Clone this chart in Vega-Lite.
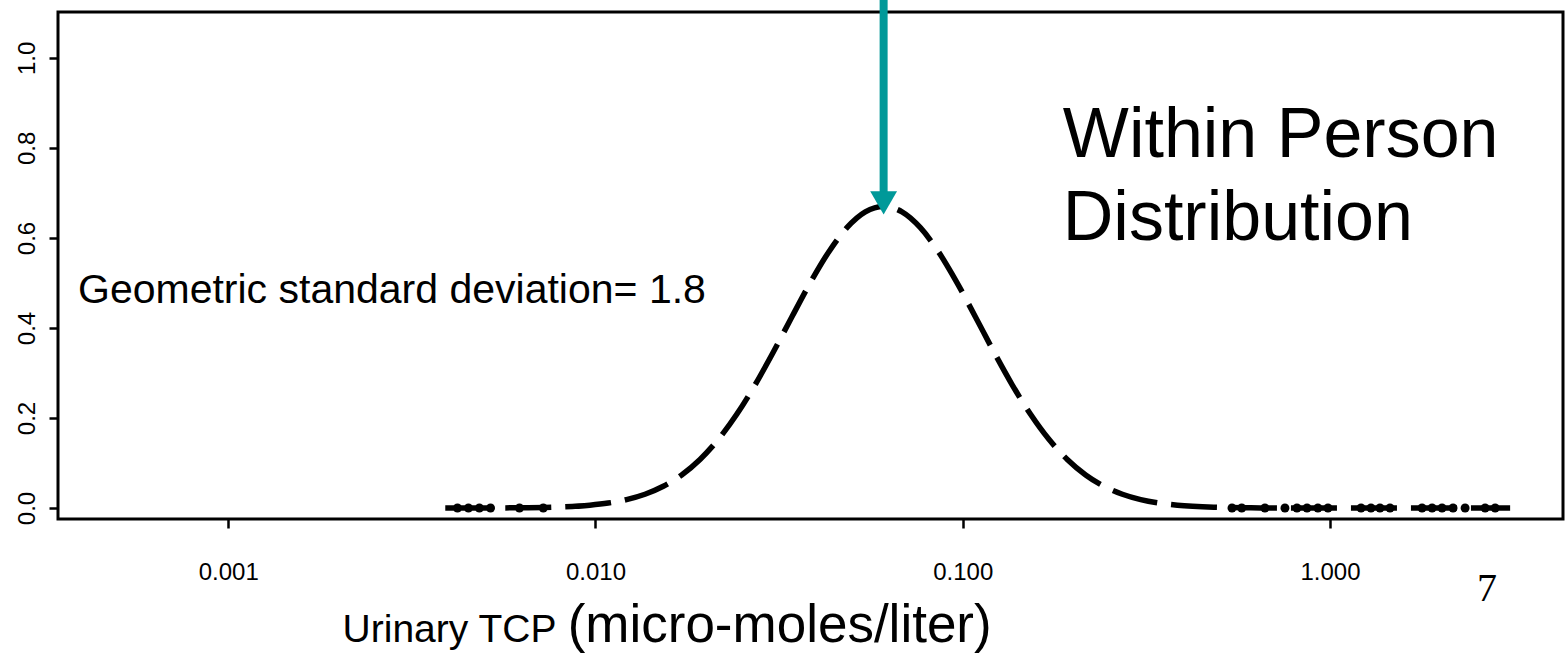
{
  "$schema": "https://vega.github.io/schema/vega-lite/v6.json",
  "width": 1505,
  "height": 507,
  "autosize": "none",
  "padding": {"left": 58, "top": 12, "right": 5, "bottom": 137},
  "background": "white",
  "config": {
    "view": {"stroke": "#000", "strokeWidth": 3},
    "axis": {"domain": false, "grid": false, "tickColor": "#000", "tickWidth": 2.5, "tickSize": 9, "labelColor": "#000", "labelFont": "Liberation Sans", "labelFontSize": 24},
    "text": {"font": "Liberation Sans", "color": "#000"}
  },
  "datasets": {
    "curve": [
      {"x": 0.0039, "y": 0.0},
      {"x": 0.00484, "y": 0.0001},
      {"x": 0.00609, "y": 0.00045},
      {"x": 0.00767, "y": 0.0018},
      {"x": 0.00965, "y": 0.0062},
      {"x": 0.01083, "y": 0.011},
      {"x": 0.01215, "y": 0.0187},
      {"x": 0.01364, "y": 0.0306},
      {"x": 0.0153, "y": 0.0483},
      {"x": 0.01717, "y": 0.0735},
      {"x": 0.01926, "y": 0.1079},
      {"x": 0.02161, "y": 0.1526},
      {"x": 0.02425, "y": 0.2082},
      {"x": 0.02721, "y": 0.2738},
      {"x": 0.03053, "y": 0.3471},
      {"x": 0.03425, "y": 0.4244},
      {"x": 0.03843, "y": 0.5002},
      {"x": 0.04312, "y": 0.5684},
      {"x": 0.04838, "y": 0.6228},
      {"x": 0.05429, "y": 0.6579},
      {"x": 0.06091, "y": 0.67},
      {"x": 0.06834, "y": 0.6579},
      {"x": 0.07668, "y": 0.6228},
      {"x": 0.08604, "y": 0.5684},
      {"x": 0.09654, "y": 0.5002},
      {"x": 0.10832, "y": 0.4244},
      {"x": 0.12153, "y": 0.3471},
      {"x": 0.13636, "y": 0.2738},
      {"x": 0.153, "y": 0.2082},
      {"x": 0.17167, "y": 0.1526},
      {"x": 0.19262, "y": 0.1079},
      {"x": 0.21612, "y": 0.0735},
      {"x": 0.24249, "y": 0.0483},
      {"x": 0.27207, "y": 0.0306},
      {"x": 0.30527, "y": 0.0187},
      {"x": 0.34252, "y": 0.011},
      {"x": 0.38432, "y": 0.0062},
      {"x": 0.48383, "y": 0.0018},
      {"x": 0.6091, "y": 0.00045},
      {"x": 0.7668, "y": 0.0001},
      {"x": 0.9654, "y": 0.0},
      {"x": 1.53, "y": 0.0},
      {"x": 3.094, "y": 0.0}
    ],
    "rug": [
      {"x": 0.00421, "y": 0}, {"x": 0.00451, "y": 0}, {"x": 0.00483, "y": 0}, {"x": 0.00518, "y": 0},
      {"x": 0.00621, "y": 0}, {"x": 0.00721, "y": 0},
      {"x": 0.541, "y": 0}, {"x": 0.575, "y": 0}, {"x": 0.665, "y": 0},
      {"x": 0.754, "y": 0}, {"x": 0.813, "y": 0}, {"x": 0.866, "y": 0}, {"x": 0.927, "y": 0}, {"x": 0.9875, "y": 0},
      {"x": 1.215, "y": 0}, {"x": 1.293, "y": 0}, {"x": 1.368, "y": 0}, {"x": 1.457, "y": 0},
      {"x": 1.781, "y": 0}, {"x": 1.897, "y": 0}, {"x": 2.019, "y": 0}, {"x": 2.163, "y": 0}, {"x": 2.333, "y": 0},
      {"x": 2.645, "y": 0}, {"x": 2.817, "y": 0}
    ]
  },
  "layer": [
    {
      "data": {"name": "curve"},
      "mark": {"type": "line", "color": "#000", "strokeWidth": 5.5, "strokeDash": [46, 14], "strokeCap": "butt", "interpolate": "monotone"},
      "encoding": {
        "x": {"field": "x", "type": "quantitative", "title": null,
              "scale": {"type": "log", "domain": [0.000344, 4.31], "nice": false, "zero": false},
              "axis": {"values": [0.001, 0.01, 0.1, 1], "format": ".3f", "labelPadding": 32}},
        "y": {"field": "y", "type": "quantitative", "title": null,
              "scale": {"domain": [-0.0244, 1.102], "nice": false, "zero": false},
              "axis": {"values": [0, 0.2, 0.4, 0.6, 0.8, 1.0], "format": ".1f", "labelAngle": 270, "labelAlign": "center", "labelBaseline": "bottom", "labelPadding": 10}}
      }
    },
    {
      "data": {"name": "rug"},
      "mark": {"type": "point", "shape": "circle", "filled": true, "color": "#000", "size": 80, "opacity": 1},
      "encoding": {
        "x": {"field": "x", "type": "quantitative", "title": null},
        "y": {"field": "y", "type": "quantitative", "title": null}
      }
    },
    {
      "data": {"values": [{"x": 0.0609, "y": 1.14, "y2": 0.7}]},
      "mark": {"type": "rule", "color": "#009999", "strokeWidth": 8, "clip": false},
      "encoding": {
        "x": {"field": "x", "type": "quantitative", "title": null},
        "y": {"field": "y", "type": "quantitative", "title": null},
        "y2": {"field": "y2"}
      }
    },
    {
      "data": {"values": [{"x": 0.0609, "y": 0.678}]},
      "mark": {"type": "point", "shape": "triangle-down", "filled": true, "color": "#009999", "size": 720, "opacity": 1},
      "encoding": {
        "x": {"field": "x", "type": "quantitative", "title": null},
        "y": {"field": "y", "type": "quantitative", "title": null}
      }
    },
    {
      "data": {"values": [{"x": 0.00039, "y": 0.4556, "text": "Geometric standard deviation= 1.8"}]},
      "mark": {"type": "text", "fontSize": 41, "align": "left", "baseline": "alphabetic"},
      "encoding": {
        "x": {"field": "x", "type": "quantitative", "title": null},
        "y": {"field": "y", "type": "quantitative", "title": null},
        "text": {"field": "text"}
      }
    },
    {
      "data": {"values": [{"x": 0.1873, "y": 0.78, "text": "Within Person"}, {"x": 0.1873, "y": 0.5956, "text": "Distribution"}]},
      "mark": {"type": "text", "fontSize": 70, "align": "left", "baseline": "alphabetic"},
      "encoding": {
        "x": {"field": "x", "type": "quantitative", "title": null},
        "y": {"field": "y", "type": "quantitative", "title": null},
        "text": {"field": "text"}
      }
    },
    {
      "data": {"values": [{"x": 0.007828, "y": -0.298, "text": "Urinary TCP"}]},
      "mark": {"type": "text", "fontSize": 39, "align": "right", "baseline": "alphabetic"},
      "encoding": {
        "x": {"field": "x", "type": "quantitative", "title": null},
        "y": {"field": "y", "type": "quantitative", "title": null},
        "text": {"field": "text"}
      }
    },
    {
      "data": {"values": [{"x": 0.0084, "y": -0.298, "text": "(micro-moles/liter)"}]},
      "mark": {"type": "text", "fontSize": 53, "align": "left", "baseline": "alphabetic"},
      "encoding": {
        "x": {"field": "x", "type": "quantitative", "title": null},
        "y": {"field": "y", "type": "quantitative", "title": null},
        "text": {"field": "text"}
      }
    },
    {
      "data": {"values": [{"x": 2.678, "y": -0.2067, "text": "7"}]},
      "mark": {"type": "text", "fontSize": 40, "font": "Liberation Serif", "align": "center", "baseline": "alphabetic"},
      "encoding": {
        "x": {"field": "x", "type": "quantitative", "title": null},
        "y": {"field": "y", "type": "quantitative", "title": null},
        "text": {"field": "text"}
      }
    }
  ]
}
